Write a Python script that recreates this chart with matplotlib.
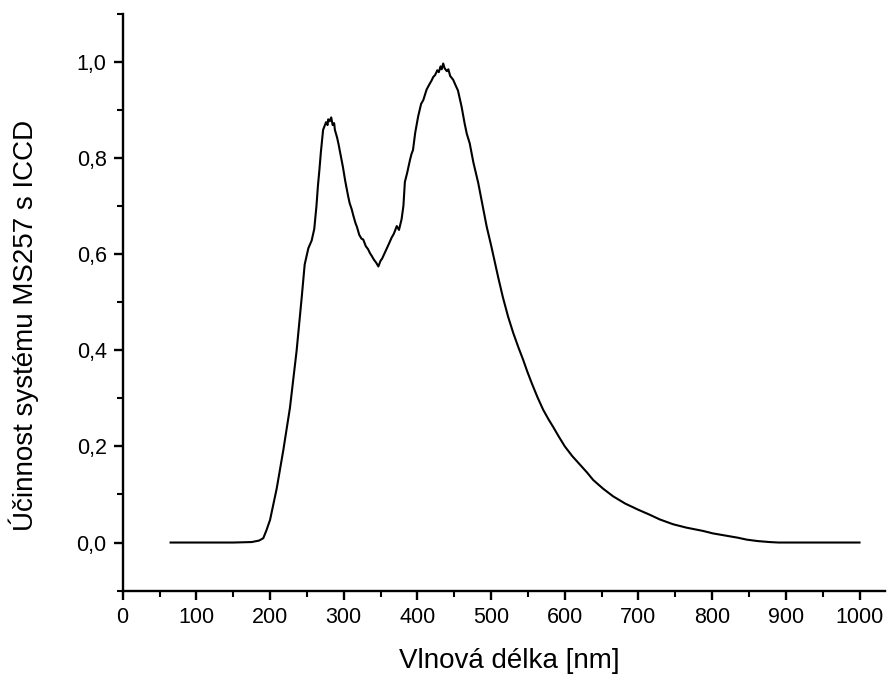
import matplotlib
matplotlib.use('Agg')
import matplotlib.pyplot as plt
from matplotlib.ticker import MultipleLocator, FuncFormatter

# wavelength [nm] and efficiency
wl = [65, 100, 150, 175, 185, 190.8, 195, 200, 209, 218, 227, 236, 243, 247,
      252, 256.5, 260, 263, 265, 267, 269, 272, 274, 276, 278, 279, 281, 283,
      285, 287, 288, 291, 293, 295, 297, 299, 302, 304, 306, 308, 311, 313,
      316, 318, 321, 324, 326.5, 330, 333, 335.5, 338, 341, 344, 347, 350,
      352, 355, 358, 361, 365, 368, 372, 375, 378.5, 381, 383, 386, 390, 392,
      394, 397, 401, 405, 408, 412.5, 416, 419, 421.5, 424, 427, 429, 431.5,
      433, 435, 437, 440, 442, 444.5, 448.6, 452, 455, 458, 460, 464, 467,
      471, 476, 482.5, 488, 494, 500, 505, 510, 516, 523, 530, 537, 543.5,
      549, 555, 563, 570.7, 578, 584, 592, 600, 610, 620, 630, 638.6, 652,
      665.7, 682, 700, 715, 729, 747, 765, 788, 801, 820, 835, 847, 862, 878,
      890, 920, 950, 975, 1000]
eff = [0.0, 0.0, 0.0, 0.001, 0.004, 0.009, 0.025, 0.047, 0.112, 0.192, 0.280,
       0.398, 0.510, 0.578, 0.612, 0.628, 0.652, 0.700, 0.742, 0.775, 0.812,
       0.858, 0.866, 0.874, 0.868, 0.880, 0.876, 0.884, 0.868, 0.872, 0.858,
       0.842, 0.828, 0.812, 0.796, 0.780, 0.752, 0.736, 0.720, 0.706, 0.692,
       0.680, 0.664, 0.656, 0.640, 0.632, 0.630, 0.616, 0.610, 0.602, 0.596,
       0.588, 0.582, 0.574, 0.586, 0.590, 0.600, 0.610, 0.620, 0.634, 0.642,
       0.658, 0.650, 0.672, 0.700, 0.750, 0.768, 0.796, 0.808, 0.816, 0.852,
       0.886, 0.912, 0.920, 0.942, 0.952, 0.960, 0.968, 0.972, 0.982, 0.978,
       0.990, 0.984, 0.996, 0.986, 0.980, 0.984, 0.970, 0.962, 0.950, 0.940,
       0.920, 0.906, 0.872, 0.850, 0.830, 0.790, 0.748, 0.705, 0.657, 0.618,
       0.583, 0.549, 0.510, 0.470, 0.436, 0.406, 0.380, 0.356, 0.332, 0.302,
       0.276, 0.256, 0.241, 0.220, 0.200, 0.180, 0.163, 0.146, 0.130, 0.112,
       0.096, 0.081, 0.068, 0.058, 0.048, 0.038, 0.031, 0.024, 0.019, 0.014,
       0.010, 0.006, 0.003, 0.001, 0.0, 0.0, 0.0, 0.0, 0.0]

plt.rcParams['font.family'] = ['Liberation Sans', 'DejaVu Sans']

fig = plt.figure(figsize=(8.89, 6.75), dpi=100)
ax = fig.add_axes([0.138, 0.125, 0.857, 0.855])

ax.plot(wl, eff, color='black', linewidth=1.5)

ax.set_xlim(0, 1034)
ax.set_ylim(-0.1, 1.1)
ax.xaxis.set_major_locator(MultipleLocator(100))
ax.xaxis.set_minor_locator(MultipleLocator(50))
ax.yaxis.set_major_locator(MultipleLocator(0.2))
ax.yaxis.set_minor_locator(MultipleLocator(0.1))
ax.yaxis.set_major_formatter(FuncFormatter(lambda v, p: ('%.1f' % v).replace('.', ',')))

for s in ['top', 'right']:
    ax.spines[s].set_visible(False)
for s in ['left', 'bottom']:
    ax.spines[s].set_linewidth(1.7)

ax.tick_params(which='major', direction='out', length=6.5, width=1.7, labelsize=15.5, pad=5)
ax.tick_params(which='minor', direction='out', length=4, width=1.5)

ax.set_xlabel('Vlnová délka [nm]', fontsize=20, labelpad=14)
ax.xaxis.set_label_coords(0.508, -0.1)
ax.xaxis.label.set_va('top')
ax.set_ylabel('Účinnost systému MS257 s ICCD', fontsize=20)
ax.yaxis.set_label_coords(-0.11, 0.46)

fig.savefig('out.png', dpi=100)
